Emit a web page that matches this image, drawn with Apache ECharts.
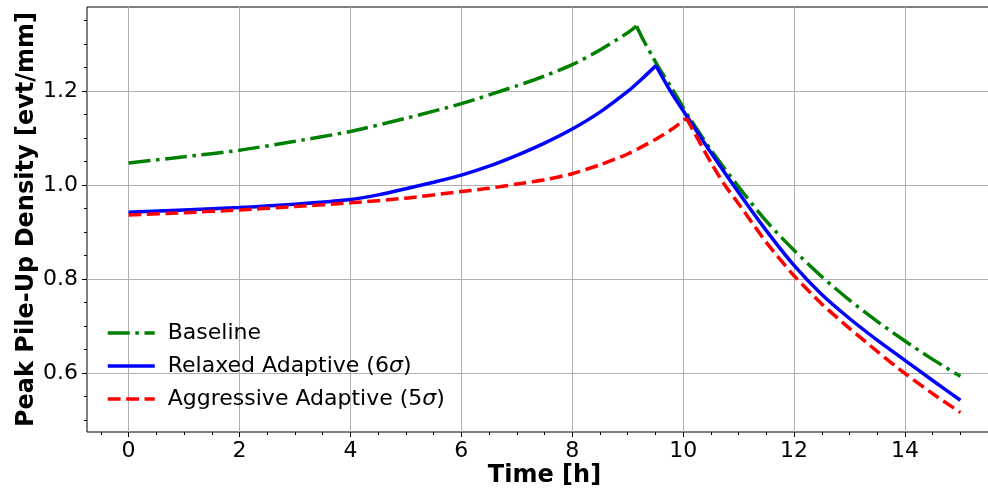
<!DOCTYPE html>
<html>
<head>
<meta charset="utf-8">
<script src="https://cdn.jsdelivr.net/npm/echarts@6/dist/echarts.min.js"></script>
<style>
html,body{margin:0;padding:0;background:#fff;}
#chart{width:988px;height:488px;}
</style>
</head>
<body>
<div id="chart"></div>
<script>
// ---- data ----
const seriesNames = ['Baseline', 'Relaxed Adaptive (6σ)', 'Aggressive Adaptive (5σ)'];

const baselineT = [0,1,2,3,4,5,6,7,7.5,8,8.5,9,9.16,9.28,9.43,9.55,9.8,10.12,10.5,11,11.5,12,12.5,13,13.5,14,14.5,15];
const baselineY = [1.047,1.060,1.074,1.093,1.114,1.142,1.173,1.211,1.232,1.256,1.287,1.324,1.338,1.309,1.277,1.252,1.205,1.142,1.075,0.996,0.923,0.861,0.805,0.755,0.710,0.668,0.629,0.593];
const baselinePeak = 12;

const relaxedT = [0,1,2,3,4,4.5,5,5.5,6,6.5,7,7.5,8,8.5,9,9.25,9.51,9.77,10.12,10.5,11,11.5,12,12.5,13,13.5,14,14.5,15];
const relaxedY = [0.942,0.947,0.952,0.959,0.969,0.979,0.992,1.006,1.021,1.040,1.063,1.089,1.119,1.155,1.199,1.225,1.254,1.200,1.137,1.069,0.984,0.903,0.829,0.767,0.716,0.670,0.627,0.584,0.542];
const relaxedPeak = 16;

const aggressiveT = [0,1,2,3,4,5,6,6.5,7,7.5,8,8.5,9,9.5,9.8,10.06,10.5,10.75,11,11.5,12,12.5,13,13.5,14,14.5,15];
const aggressiveY = [0.936,0.941,0.947,0.954,0.962,0.972,0.986,0.993,1.002,1.011,1.024,1.043,1.066,1.097,1.119,1.142,1.048,1.000,0.960,0.878,0.807,0.747,0.695,0.646,0.599,0.556,0.516];
const aggressivePeak = 15;

const xTickValues = [0,2,4,6,8,10,12,14];
const yTickValues = [0.6,0.8,1.0,1.2];
const xTitle = 'Time [h]';
const yTitle = 'Peak Pile-Up Density [evt/mm]';

// ---- chart ----
const FONT = 'DejaVu Sans';
const xMin = -0.75, xMax = 15.75;
const yMin = 0.4745, yMax = 1.3787;

const xMinor = [];
for (let v = -0.5; v <= 15.5; v += 0.5) xMinor.push(+v.toFixed(2));
const yMinor = [];
for (let v = 0.5; v <= 1.36; v += 0.05) yMinor.push(+v.toFixed(2));

function zip(t, y, a, b) {
  const out = [];
  for (let i = a; i <= b; i++) out.push([t[i], y[i]]);
  return out;
}

const chart = echarts.init(document.getElementById('chart'), null, {renderer: 'canvas'});

function legendFmt(name) {
  const m = name.match(/^(.*\()(\d)σ(\))$/);
  if (m) return '{n|' + m[1] + m[2] + '}{i|σ}{n|' + m[3] + '}';
  return '{n|' + name + '}';
}

const styles = [
  {color: '#008000', width: 3.5, type: [22, 5.6, 3.5, 5.6], cap: 'butt'},
  {color: '#0000ff', width: 3.5, type: 'solid', cap: 'butt'},
  {color: '#ff0000', width: 3.5, type: [12.8, 5.6], cap: 'butt'}
];
const curves = [
  [baselineT, baselineY, baselinePeak],
  [relaxedT, relaxedY, relaxedPeak],
  [aggressiveT, aggressiveY, aggressivePeak]
];

const series = [];
curves.forEach((c, k) => {
  const [t, y, p] = c;
  const parts = [[0, p], [p, t.length - 1]];
  parts.forEach(([a, b]) => {
    series.push({
      name: seriesNames[k], type: 'line', data: zip(t, y, a, b),
      xAxisIndex: 0, yAxisIndex: 0, symbol: 'none', showSymbol: false,
      smooth: 0.25, clip: true,
      lineStyle: styles[k], itemStyle: {color: styles[k].color}, z: 2 + k
    });
  });
});

const option = {
  animation: false,
  backgroundColor: '#ffffff',
  textStyle: {fontFamily: FONT},
  grid: {
    left: 87, top: 7, width: 915, height: 425,
    show: true, borderColor: '#000000', borderWidth: 1, backgroundColor: 'transparent',
    containLabel: false, outerBoundsMode: 'none'
  },
  legend: {
    orient: 'vertical',
    left: 101, top: 317,
    itemWidth: 47, itemHeight: 22, itemGap: 11,
    data: seriesNames,
    formatter: legendFmt,
    itemStyle: {opacity: 0},
    lineStyle: {width: 3.5},
    textStyle: {
      fontFamily: FONT, fontSize: 22, color: '#000', padding: [0, 0, 0, 8],
      rich: {
        n: {fontFamily: FONT, fontSize: 22, color: '#000'},
        i: {fontFamily: FONT, fontSize: 22, fontStyle: 'italic', color: '#000'}
      }
    }
  },
  xAxis: [
    {
      type: 'value', min: xMin, max: xMax, position: 'bottom',
      name: xTitle, nameLocation: 'middle', nameGap: 32, nameMoveOverlap: false,
      nameTextStyle: {fontFamily: FONT, fontSize: 24, fontWeight: 'bold', color: '#000'},
      axisLine: {show: false, onZero: false},
      axisTick: {show: true, inside: false, length: 5, customValues: xTickValues, lineStyle: {color: '#000', width: 1}},
      axisLabel: {show: true, margin: 8, customValues: xTickValues, fontFamily: FONT, fontSize: 22, color: '#000',
        formatter: v => String(Math.round(v))},
      splitLine: {show: true, lineStyle: {color: '#b0b0b0', width: 1}}
    },
    {
      type: 'value', min: xMin, max: xMax, position: 'bottom',
      axisLine: {show: false, onZero: false},
      axisTick: {show: true, inside: false, length: 3, customValues: xMinor, lineStyle: {color: '#000', width: 1}},
      axisLabel: {show: false},
      splitLine: {show: false}
    }
  ],
  yAxis: [
    {
      type: 'value', min: yMin, max: yMax, position: 'left',
      name: yTitle, nameLocation: 'middle', nameGap: 48, nameRotate: 90, nameMoveOverlap: false,
      nameTextStyle: {fontFamily: FONT, fontSize: 24, fontWeight: 'bold', color: '#000'},
      axisLine: {show: false, onZero: false},
      axisTick: {show: true, inside: false, length: 5, customValues: yTickValues, lineStyle: {color: '#000', width: 1}},
      axisLabel: {show: true, margin: 9, customValues: yTickValues, fontFamily: FONT, fontSize: 22, color: '#000',
        formatter: v => v.toFixed(1)},
      splitLine: {show: true, lineStyle: {color: '#b0b0b0', width: 1}}
    },
    {
      type: 'value', min: yMin, max: yMax, position: 'left',
      axisLine: {show: false, onZero: false},
      axisTick: {show: true, inside: false, length: 3, customValues: yMinor, lineStyle: {color: '#000', width: 1}},
      axisLabel: {show: false},
      splitLine: {show: false}
    }
  ],
  series: series
};
chart.setOption(option);
</script>
</body>
</html>
